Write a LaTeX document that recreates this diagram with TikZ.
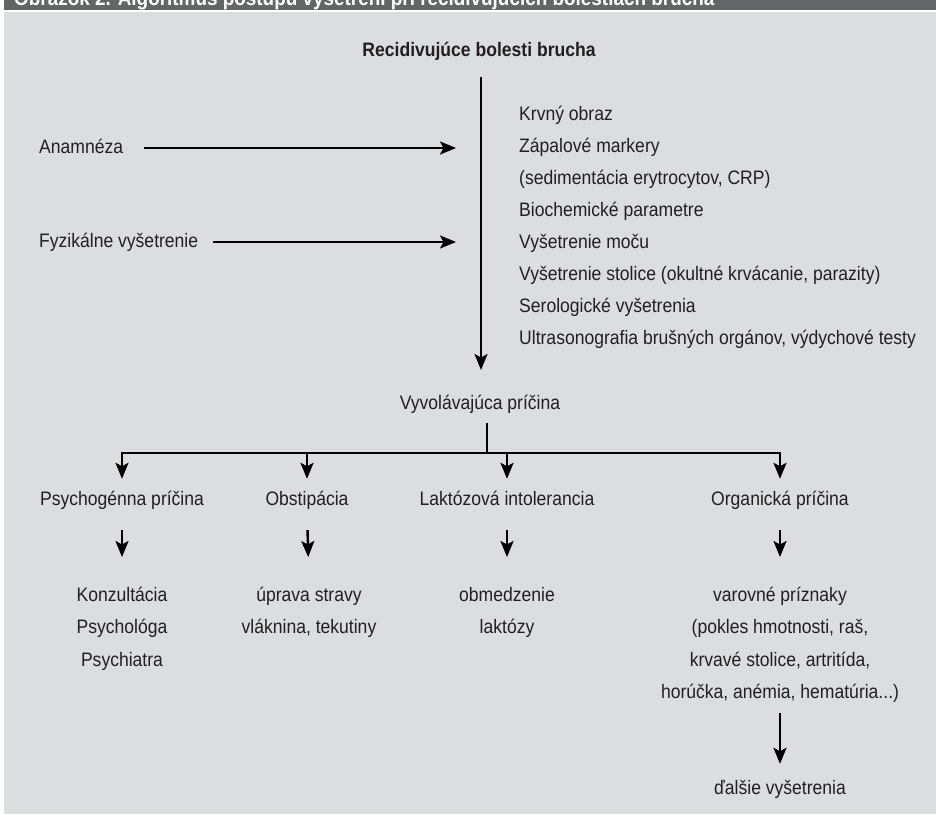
\documentclass[tikz,border=0pt]{standalone}
\usepackage{fontspec}
\setmainfont{Liberation Sans}[FakeStretch=0.9]
\usepackage{xcolor}
\usepackage{tikz}
\usetikzlibrary{arrows.meta,calc}

\definecolor{barGray}{HTML}{646567}
\definecolor{panelGray}{HTML}{DCDDDF}
\definecolor{inkBlack}{HTML}{231F20}

\newcommand{\bodyFont}{\fontsize{19.5pt}{32.4pt}\selectfont}

\begin{document}
\begin{tikzpicture}[x=1pt, y=-1pt,
        txt/.style={inner sep=0pt, text=inkBlack, font=\bodyFont,
                    text height=14pt, text depth=4pt},
        block/.style={inner sep=0pt, text=inkBlack, font=\bodyFont,
                      align=center, anchor=north},
        link/.style={line width=2.4pt, draw=black},
        arr/.style={link, -{Stealth[length=16pt, width=13pt, inset=3.5pt]}}]

        % background
        \useasboundingbox (0,0) rectangle (936,814);
        \fill[white] (0,0) rectangle (936,814);
        \fill[barGray] (4,0) rectangle (936,9.5);
        \fill[panelGray] (4,12) rectangle (936,814);

        % caption, only its lower edge shows
        \begin{scope}
            \clip (4,0) rectangle (936,9.5);
            \node[  anchor=base west,
                    inner sep=0pt,
                    text=white,
                    font=\bfseries\fontsize{21pt}{24pt}\selectfont] (caption) at (14,5.5)
            {Obrázok 2. Algoritmus postupu vyšetrení pri recidivujúcich bolestiach brucha};
        \end{scope}

        % Text
        \node[txt, font=\bfseries\bodyFont] (title) at (479,51) {Recidivujúce bolesti brucha};
        \node[txt, anchor=west] (anam) at (39,148) {Anamnéza};
        \node[txt, anchor=west] (fyzi) at (39,242) {Fyzikálne vyšetrenie};

        % examinations
        \foreach \exam [count=\i] in {Krvný obraz, Zápalové markery,
                {(sedimentácia erytrocytov, CRP)}, Biochemické parametre,
                Vyšetrenie moču, {Vyšetrenie stolice (okultné krvácanie, parazity)},
                Serologické vyšetrenia, {Ultrasonografia brušných orgánov, výdychové testy}} {
            \node[txt, anchor=west] (exam\i) at (519, 83+32*\i) {\exam};
        }

        % arrows towards the main line
        \coordinate (inlet) at (456,0);
        \draw[arr, shorten <=21pt] (anam.east) -- (anam.east -| inlet);
        \draw[arr, shorten <=15pt] (fyzi.east) -- (fyzi.east -| inlet);

        % main line
        \node[txt] (cause) at (480,404) {Vyvolávajúca príčina};
        \coordinate (mainTip) at (481,370);
        \draw[arr, shorten <=17pt] (title.south -| mainTip) -- (mainTip);

        % fork into the causes
        \coordinate (fork) at (487,453);
        \draw[link, shorten <=10pt] (cause.south -| fork) -- (fork);

        \node[txt] (psych) at (122,500) {Psychogénna príčina};
        \node[txt] (obst) at (307,500) {Obstipácia};
        \node[txt] (lact) at (507,500) {Laktózová intolerancia};
        \node[txt] (organ) at (780,500) {Organická príčina};

        \draw[link, line cap=rect] (psych.north |- fork) -- (organ.north |- fork);
        \foreach \c in {psych, obst, lact, organ} {
            \draw[arr, shorten >=12pt] (\c.north |- fork) -- (\c.north);
        }

        % what follows
        \node[block] (consult) at (122,587) {Konzultácia\\Psychológa\\Psychiatra};
        \node[block] (diet) at (309,587) {úprava stravy\\vláknina, tekutiny};
        \node[block] (lactfree) at (507,587) {obmedzenie\\laktózy};
        \node[block] (warn) at (780,587)
        {varovné príznaky\\(pokles hmotnosti, raš,\\krvavé stolice, artritída,\\horúčka, anémia, hematúria...)};

        \foreach \a/\b in {psych/consult, obst/diet, lact/lactfree, organ/warn} {
            \draw[arr, shorten <=21pt, shorten >=30pt] (\a.south) -- (\b.north);
        }

        \node[txt] (further) at (780,789) {ďalšie vyšetrenia};
        \draw[arr, shorten <=10pt, shorten >=16pt] (warn.south) -- (further.north);

\end{tikzpicture}
\end{document}
